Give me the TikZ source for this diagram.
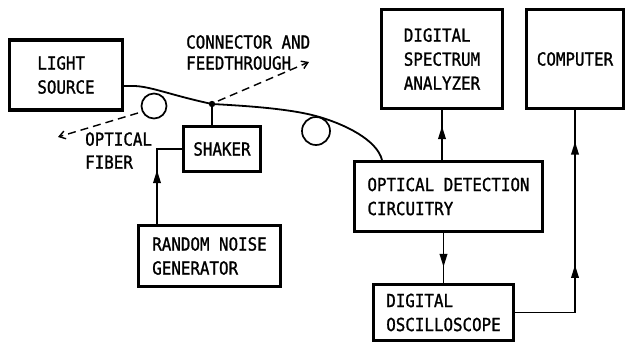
\documentclass[tikz,border=0pt]{standalone}
\usepackage{fontspec}
\newfontfamily\lettering[FakeStretch=0.88,FakeBold=1.2]{DejaVu Sans Mono}
\usetikzlibrary{arrows.meta,decorations.markings,calc}

\begin{document}
\begin{tikzpicture}[x=1pt,y=-1pt,
  every node/.style={font=\lettering\fontsize{18}{24}\selectfont},
  unit/.style={draw, line width=3.1pt, inner sep=0pt, align=left},
  loop/.style={draw, circle, line width=1.7pt, inner sep=0pt},
  label/.style={anchor=west, align=left, inner sep=0pt},
  wire/.style={line width=1.8pt},
  fibre/.style={line width=1.8pt},
  pointer/.style={line width=1.4pt, dash pattern=on 8pt off 5pt,
    -{Straight Barb[length=6pt,width=8pt]}},
  headat/.style={postaction=decorate, decoration={markings,
    mark=at position #1 with {\arrow{Triangle[length=13pt,width=7.5pt]}}}},
  twoheads/.style 2 args={postaction=decorate, decoration={markings,
    mark=at position #1 with {\arrow{Triangle[length=13pt,width=7.5pt]}},
    mark=at position #2 with {\arrow{Triangle[length=13pt,width=7.5pt]}}}},
]
\useasboundingbox (0,0) rectangle (626,343);

% blocks
\node[unit, minimum width=113pt, minimum height=70pt] (ls) at (66,75) {LIGHT\\SOURCE};
\node[unit, minimum width=77pt, minimum height=45pt] (shk) at (222,149) {SHAKER};
\node[unit, minimum width=142pt, minimum height=61pt] (rng) at (209.5,256) {RANDOM NOISE\\GENERATOR};
\node[unit, minimum width=121pt, minimum height=99pt] (dsa) at (442,59) {DIGITAL\\SPECTRUM\\ANALYZER};
\node[unit, minimum width=97pt, minimum height=99pt] (comp) at (575,59) {COMPUTER};
\node[unit, minimum width=188pt, minimum height=70pt] (odc) at (448.5,196.5) {OPTICAL DETECTION\\CIRCUITRY};
\node[unit, minimum width=140pt, minimum height=56pt] (osc) at (443.5,312.5) {DIGITAL\\OSCILLOSCOPE};

% fibre loops and the splice point
\node[loop, minimum size=25pt] (loopa) at (154,106) {};
\node[loop, minimum size=28pt] (loopb) at (316,131) {};
\coordinate (splice) at (212,104);

% optical fibre from the source to the detector
\draw[fibre] ([yshift=-11pt]ls.east) -- ++(9,0)
  .. controls (150,86) and (170,95) .. (splice)
  .. controls (250,106) and (290,109) .. (316,116)
  .. controls (345,124) and (377,140) .. ([xshift=-66.5pt]odc.north);
\fill (splice) circle (3.2pt);
\draw[wire] (splice) -- (splice |- shk.north);

% signal connections
\draw[wire, headat=0.54] ([xshift=-52.5pt]rng.north) |- (shk.west);
\draw[wire, headat=0.68] (dsa.south |- odc.north) -- (dsa.south);
\draw[wire, headat=0.68] (osc.north |- odc.south) -- (osc.north);
\draw[wire, twoheads={0.41}{0.88}] (osc.east) -| (comp.south);

% callouts
\node[label] (cflabel) at (186,52.5) {CONNECTOR AND\\[-3pt]FEEDTHROUGH};
\node[label] (oflabel) at (85,150.5) {OPTICAL\\[-1pt]FIBER};
\coordinate (cfstart) at (218,101);
\coordinate (cfend) at (309,62);
\coordinate (ofstart) at (138,113);
\coordinate (ofend) at (58,137);
\draw[pointer] (cfstart) -- (cfend);
\draw[pointer] (ofstart) -- (ofend);
\end{tikzpicture}
\end{document}
